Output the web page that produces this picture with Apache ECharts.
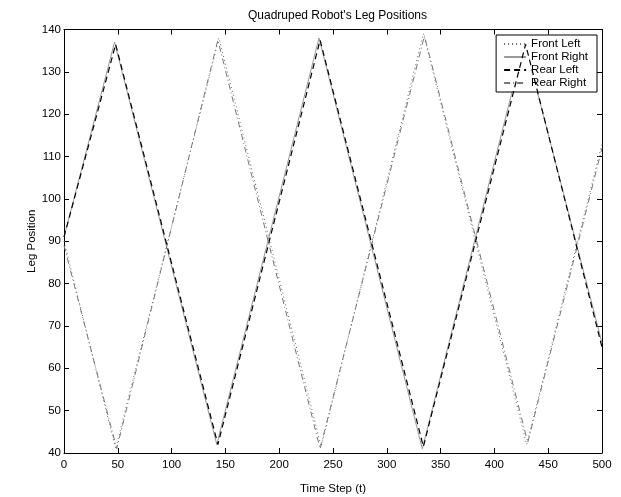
<!DOCTYPE html>
<html>
<head>
<meta charset="utf-8">
<script src="https://cdn.jsdelivr.net/npm/echarts@6/dist/echarts.min.js"></script>
<style>html,body{margin:0;padding:0;background:#fff}#c{width:621px;height:497px}</style>
</head>
<body>
<div id="c"></div>
<script>
var seriesNames = ['Front Left', 'Front Right', 'Rear Left', 'Rear Right'];
var frontLeftT = [0, 48, 144, 239, 334, 430, 500];
var frontLeftV = [90, 41, 138, 41.5, 139, 42, 113];
var frontRightT = [0, 47, 142, 237, 333, 428, 500];
var frontRightV = [91, 137, 42, 138, 41, 137, 66];
var rearLeftT = [0, 48, 143, 238, 334, 429, 500];
var rearLeftV = [91, 136.5, 42, 137.5, 41.5, 136.5, 65];
var rearRightT = [0, 49, 143, 238, 335, 431, 500];
var rearRightV = [89, 41, 137.5, 41, 138.5, 42.5, 112];
var xTicks = [0, 50, 100, 150, 200, 250, 300, 350, 400, 450, 500];
var yTicks = [40, 50, 60, 70, 80, 90, 100, 110, 120, 130, 140];

function pairs(t, v) { return t.map(function (x, i) { return [x, v[i]]; }); }

var FONT = 'Liberation Sans';
var chart = echarts.init(document.getElementById('c'), null, {renderer: 'canvas'});
var axisCommon = {
  type: 'value',
  axisLine: {show: true, onZero: false, lineStyle: {color: '#000', width: 1}},
  axisTick: {show: true, inside: true, length: 5, lineStyle: {color: '#000'}},
  splitLine: {show: false},
  nameMoveOverlap: false
};
var styles = [
  {color: '#666', type: [1, 3], width: 1},
  {color: '#999', type: 'solid', width: 1},
  {color: '#000', type: [6, 4], width: 1.2},
  {color: '#777', type: [6, 3, 1, 3], width: 1}
];
var dataSets = [pairs(frontLeftT, frontLeftV), pairs(frontRightT, frontRightV), pairs(rearLeftT, rearLeftV), pairs(rearRightT, rearRightV)];

chart.setOption({
  animation: false,
  backgroundColor: '#fff',
  textStyle: {fontFamily: FONT},
  title: {
    text: "Quadruped Robot's Leg Positions",
    left: 332.5, top: 5, textAlign: 'center',
    textStyle: {fontSize: 12, fontWeight: 'normal', color: '#000', fontFamily: FONT}
  },
  grid: {left: 64, right: 19, top: 29.5, bottom: 44, containLabel: false, outerBoundsMode: 'none'},
  legend: {
    orient: 'vertical', right: 24, top: 35,
    data: seriesNames,
    backgroundColor: '#fff', borderColor: '#000', borderWidth: 1,
    padding: [3, 9, 3, 7], itemGap: 1, itemWidth: 22, itemHeight: 12,
    itemStyle: {color: 'rgba(0,0,0,0)', borderWidth: 0, opacity: 0},
    textStyle: {fontSize: 11.5, color: '#000', fontFamily: FONT}
  },
  xAxis: [
    Object.assign({}, axisCommon, {
      min: xTicks[0], max: xTicks[xTicks.length - 1], interval: 50, position: 'bottom',
      name: 'Time Step (t)', nameLocation: 'middle', nameGap: 30,
      nameTextStyle: {fontSize: 11.5, color: '#000', fontFamily: FONT},
      axisLabel: {margin: 6, fontSize: 11.5, color: '#000', fontFamily: FONT}
    }),
    Object.assign({}, axisCommon, {
      min: xTicks[0], max: xTicks[xTicks.length - 1], interval: 50, position: 'top',
      axisLabel: {show: false}
    })
  ],
  yAxis: [
    Object.assign({}, axisCommon, {
      min: yTicks[0], max: yTicks[yTicks.length - 1], interval: 10, position: 'left',
      name: 'Leg Position', nameLocation: 'middle', nameGap: 26,
      nameTextStyle: {fontSize: 11.5, color: '#000', fontFamily: FONT},
      axisLabel: {margin: 3, fontSize: 11.5, color: '#000', fontFamily: FONT}
    }),
    Object.assign({}, axisCommon, {
      min: yTicks[0], max: yTicks[yTicks.length - 1], interval: 10, position: 'right',
      axisLabel: {show: false}
    })
  ],
  series: seriesNames.map(function (n, i) {
    return {
      name: n, type: 'line', symbol: 'none', data: dataSets[i],
      lineStyle: styles[i], itemStyle: {color: styles[i].color},
      z: i === 2 ? 4 : 3
    };
  })
});
</script>
</body>
</html>
